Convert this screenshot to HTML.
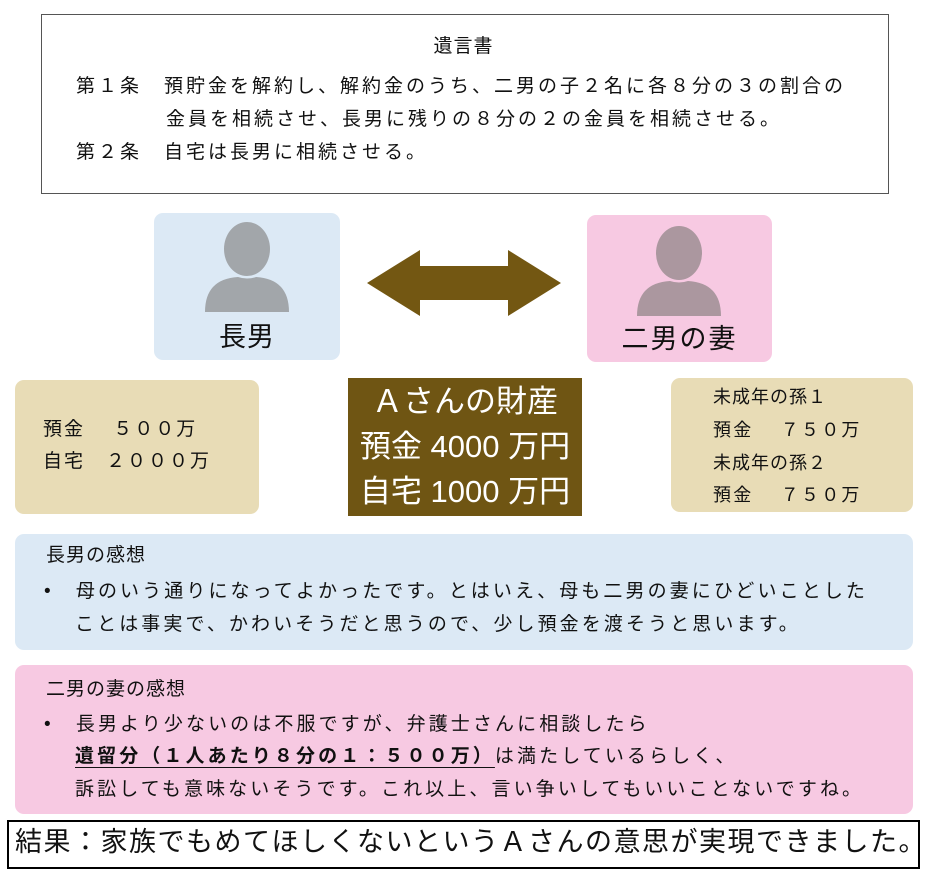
<!DOCTYPE html>
<html><head><meta charset="utf-8"><style>
body{margin:0;width:927px;height:874px;background:#fff;position:relative;font-family:"Liberation Sans","Noto Sans CJK JP",sans-serif;color:#111;overflow:hidden}
.a{position:absolute}
.t{position:absolute;white-space:nowrap;line-height:1}
.b{font-size:19px;letter-spacing:3.1px}
</style></head><body>
<div class="a" style="left:41px;top:14px;width:846px;height:178px;border:1px solid #555"></div>
<div class="t" style="left:0;width:927px;text-align:center;top:37px;font-size:19px;letter-spacing:1px">遺言書</div>
<div class="t b" style="left:76px;top:77px;letter-spacing:3px">第１条　預貯金を解約し、解約金のうち、二男の子２名に各８分の３の割合の</div>
<div class="t b" style="left:166px;top:110px;letter-spacing:3px">金員を相続させ、長男に残りの８分の２の金員を相続させる。</div>
<div class="t b" style="left:76px;top:143px;letter-spacing:3px">第２条　自宅は長男に相続させる。</div>

<div class="a" style="left:154px;top:213px;width:186px;height:147px;background:#dce9f5;border-radius:9px"></div>
<svg class="a" style="left:154px;top:213px" width="186" height="147"><ellipse cx="93" cy="36" rx="23" ry="27" fill="#a2a6aa"/><path d="M51 99 Q51 66 84 64 Q93 67 102 64 Q135 66 135 99Z" fill="#a2a6aa"/></svg>
<div class="t" style="left:154px;width:186px;text-align:center;top:324px;font-size:27px;letter-spacing:1px">長男</div>

<div class="a" style="left:587px;top:215px;width:185px;height:147px;background:#f7c9e2;border-radius:9px"></div>
<svg class="a" style="left:587px;top:215px" width="185" height="147"><ellipse cx="92" cy="38" rx="23" ry="27" fill="#ab979f"/><path d="M50 101 Q50 68 83 66 Q92 69 101 66 Q134 68 134 101Z" fill="#ab979f"/></svg>
<div class="t" style="left:587px;width:185px;text-align:center;top:326px;font-size:27px;letter-spacing:2px">二男の妻</div>

<svg class="a" style="left:0;top:0" width="927" height="874"><polygon points="367,283 420,250 420,266 508,266 508,250 561,283 508,316 508,300 420,300 420,316" fill="#735712"/></svg>

<div class="a" style="left:15px;top:380px;width:244px;height:134px;background:#e8dcb6;border-radius:9px"></div>
<div class="t" style="left:43px;top:420px;font-size:19px;letter-spacing:2px">預金　 ５００万</div>
<div class="t" style="left:43px;top:452px;font-size:19px;letter-spacing:2px">自宅　２０００万</div>

<div class="a" style="left:348px;top:378px;width:234px;height:138px;background:#6f5513"></div>
<div class="t" style="left:348px;width:234px;text-align:center;top:386px;font-size:31px;color:#fff">Ａさんの財産</div>
<div class="t" style="left:348px;width:234px;text-align:center;top:431px;font-size:31px;color:#fff">預金 4000 万円</div>
<div class="t" style="left:348px;width:234px;text-align:center;top:476px;font-size:31px;color:#fff">自宅 1000 万円</div>

<div class="a" style="left:671px;top:378px;width:242px;height:134px;background:#e8dcb6;border-radius:9px"></div>
<div class="t" style="left:713px;top:388px;font-size:18px;letter-spacing:1px">未成年の孫１</div>
<div class="t" style="left:713px;top:421px;font-size:18px;letter-spacing:2.2px">預金　 ７５０万</div>
<div class="t" style="left:713px;top:454px;font-size:18px;letter-spacing:1px">未成年の孫２</div>
<div class="t" style="left:713px;top:486px;font-size:18px;letter-spacing:2.2px">預金　 ７５０万</div>

<div class="a" style="left:15px;top:534px;width:898px;height:116px;background:#dce9f5;border-radius:9px"></div>
<div class="t b" style="left:46px;top:546px;letter-spacing:1px">長男の感想</div>
<div class="t b" style="left:44px;top:582px">•　母のいう通りになってよかったです。とはいえ、母も二男の妻にひどいことした</div>
<div class="t b" style="left:75px;top:615px">ことは事実で、かわいそうだと思うので、少し預金を渡そうと思います。</div>

<div class="a" style="left:15px;top:665px;width:898px;height:149px;background:#f7c9e2;border-radius:9px"></div>
<div class="t b" style="left:46px;top:680px;letter-spacing:1px">二男の妻の感想</div>
<div class="t b" style="left:44px;top:715px">•　長男より少ないのは不服ですが、弁護士さんに相談したら</div>
<div class="t b" style="left:75px;top:747px"><span style="font-weight:bold;text-decoration:underline;text-underline-offset:5px">遺留分（１人あたり８分の１：５００万）</span>は満たしているらしく、</div>
<div class="t b" style="left:75px;top:780px">訴訟しても意味ないそうです。これ以上、言い争いしてもいいことないですね。</div>

<div class="a" style="left:7px;top:820px;width:909px;height:45px;border:2px solid #000"></div>
<div class="t" style="left:15px;top:829px;font-size:27px;letter-spacing:1.5px">結果：家族でもめてほしくないというＡさんの意思が実現できました。</div>
</body></html>
